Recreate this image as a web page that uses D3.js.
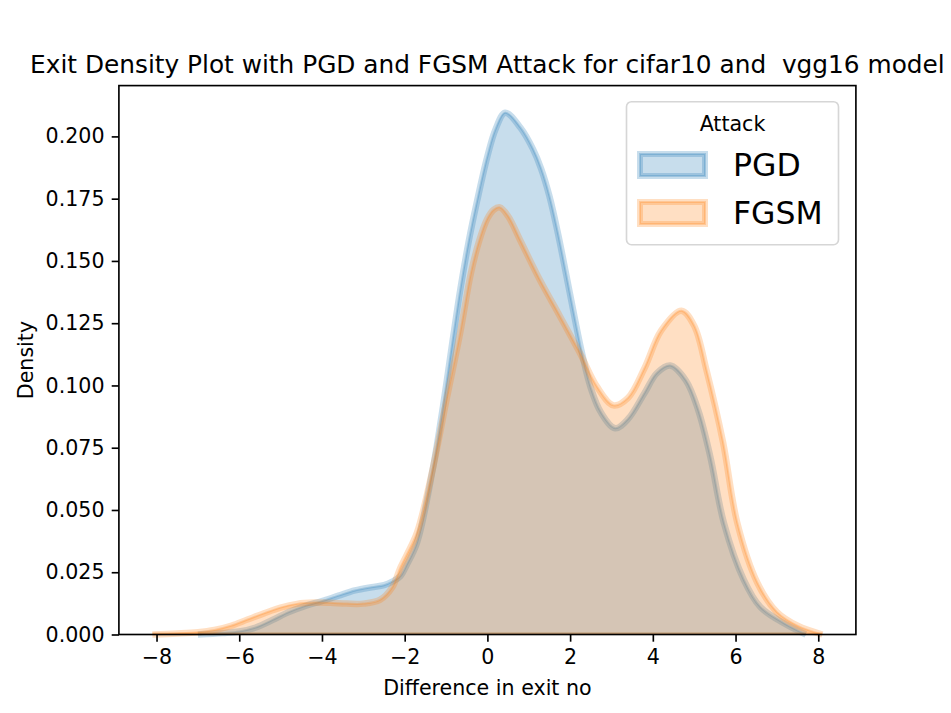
<!DOCTYPE html>
<html>
<head>
<meta charset="utf-8">
<script src="https://cdn.jsdelivr.net/npm/d3@7"></script>
<style>
  body { margin: 0; background: #fff; }
  text { font-family: "DejaVu Sans", sans-serif; }
</style>
</head>
<body>
<svg id="chart" width="951" height="713"></svg>
<script>
// values
const pgdX = [-7.0, -6.4, -6.0, -5.6, -5.2, -4.8, -4.4, -4.0, -3.6, -3.2, -2.8, -2.5, -2.3, -2.1, -1.95, -1.7, -1.31, -1.07, -0.85, -0.65, -0.45, -0.25, 0.0, 0.2, 0.43, 0.8, 1.1, 1.3, 1.5, 1.7, 1.9, 2.1, 2.3, 2.5, 2.75, 3.09, 3.4, 3.8, 4.1, 4.42, 4.8, 5.1, 5.39, 5.72, 6.2, 6.6, 7.16, 7.7]
const pgdY = [0, 0.0006, 0.0012, 0.0028, 0.0058, 0.009, 0.0115, 0.0134, 0.0156, 0.0177, 0.019, 0.0198, 0.0212, 0.0235, 0.028, 0.037, 0.0674, 0.092, 0.117, 0.139, 0.158, 0.174, 0.192, 0.203, 0.2095, 0.2035, 0.195, 0.187, 0.176, 0.1615, 0.145, 0.128, 0.112, 0.099, 0.089, 0.0828, 0.0865, 0.097, 0.105, 0.108, 0.102, 0.09, 0.0714, 0.0447, 0.0219, 0.011, 0.0046, 0]

const fgsmX = [-8.1, -7.5, -7.0, -6.6, -6.2, -5.8, -5.4, -5.0, -4.6, -4.2, -3.8, -3.4, -3.0, -2.6, -2.3, -2.1, -1.95, -1.7, -1.31, -0.99, -0.66, -0.4, -0.2, 0.0, 0.15, 0.3, 0.5, 0.79, 1.27, 1.76, 2.24, 2.65, 3.05, 3.4, 3.8, 4.2, 4.69, 5.0, 5.3, 5.7, 6.04, 6.53, 7.0, 7.5, 8.1]
const fgsmY = [0, 0.0004, 0.0009, 0.0018, 0.0035, 0.006, 0.0085, 0.0108, 0.0123, 0.0128, 0.0127, 0.0124, 0.0124, 0.0139, 0.019, 0.027, 0.032, 0.041, 0.0674, 0.0941, 0.121, 0.145, 0.158, 0.167, 0.1705, 0.1715, 0.168, 0.1584, 0.1423, 0.1276, 0.1129, 0.0995, 0.092, 0.095, 0.107, 0.122, 0.13, 0.124, 0.106, 0.077, 0.045, 0.0207, 0.009, 0.0035, 0]

const seriesNames = ["PGD", "FGSM"]
const seriesColours = ["#1f77b4", "#ff7f0e"]
const xTicks = [-8, -6, -4, -2, 0, 2, 4, 6, 8]
const yTicks = [0, 0.025, 0.05, 0.075, 0.1, 0.125, 0.15, 0.175, 0.2]

const series = [
	{ name: seriesNames[0], colour: seriesColours[0], points: pgdX.map((x, i) => [x, pgdY[i]]) },
	{ name: seriesNames[1], colour: seriesColours[1], points: fgsmX.map((x, i) => [x, fgsmY[i]]) }
]

const svg = d3.select("#chart")
const plotLeft = 118.9, plotRight = 855.9, plotTop = 85.6, plotBottom = 634.5

const x = d3.scaleLinear().domain([-8.91, 8.91]).range([plotLeft, plotRight])
const y = d3.scaleLinear().domain([0, 0.2204]).range([plotBottom, plotTop])

const curve = d3.curveCatmullRom.alpha(0.5)

const area = d3.area()
	.x(d => x(d[0]))
	.y0(y(0))
	.y1(d => y(d[1]))
	.curve(curve)

const line = d3.line()
	.x(d => x(d[0]))
	.y(d => y(d[1]))
	.curve(curve)

const plot = svg.append("g")

// fill, then the thick soft edge with a thinner darker core
series.forEach(s => {
	const g = plot.append("g")
	g.append("path")
		.attr("d", area(s.points))
		.attr("fill", s.colour)
		.attr("fill-opacity", 0.25)
	g.append("path")
		.attr("d", line(s.points))
		.attr("fill", "none")
		.attr("stroke", s.colour)
		.attr("stroke-opacity", 0.25)
		.attr("stroke-width", 6.5)
		.attr("stroke-linejoin", "round")
	g.append("path")
		.attr("d", line(s.points))
		.attr("fill", "none")
		.attr("stroke", s.colour)
		.attr("stroke-opacity", 0.25)
		.attr("stroke-width", 2)
	g.append("line")
		.attr("x1", x(s.points[0][0]))
		.attr("x2", x(s.points[s.points.length - 1][0]))
		.attr("y1", y(0) - 1)
		.attr("y2", y(0) - 1)
		.attr("stroke", s.colour)
		.attr("stroke-opacity", 0.35)
		.attr("stroke-width", 2)
})

// axes
const xAxis = svg.append("g")
	.attr("transform", `translate(0,${plotBottom})`)
	.call(d3.axisBottom(x).tickValues(xTicks).tickSize(7.2).tickPadding(7.2).tickFormat(d3.format("d")))
const yAxis = svg.append("g")
	.attr("transform", `translate(${plotLeft},0)`)
	.call(d3.axisLeft(y).tickValues(yTicks).tickSize(7.2).tickPadding(7.2).tickFormat(d3.format(".3f")))

;[xAxis, yAxis].forEach(a => {
	a.select(".domain").remove()
	a.selectAll(".tick line").attr("stroke", "#000").attr("stroke-width", 1.65)
	a.selectAll(".tick text").attr("fill", "#000").style("font-size", "20.6px").style("font-family", "DejaVu Sans")
})

svg.append("rect")
	.attr("x", plotLeft)
	.attr("y", plotTop)
	.attr("width", plotRight - plotLeft)
	.attr("height", plotBottom - plotTop)
	.attr("fill", "none")
	.attr("stroke", "#000")
	.attr("stroke-width", 1.65)

// titles and labels
svg.append("text")
	.attr("x", (plotLeft + plotRight) / 2)
	.attr("y", 73.2)
	.attr("text-anchor", "middle")
	.style("font-size", "24.8px")
	.text("Exit Density Plot with PGD and FGSM Attack for cifar10 and\u00a0 vgg16 model")

svg.append("text")
	.attr("x", (plotLeft + plotRight) / 2)
	.attr("y", 695)
	.attr("text-anchor", "middle")
	.style("font-size", "20.6px")
	.text("Difference in exit no")

svg.append("text")
	.attr("transform", `translate(33,${(plotTop + plotBottom) / 2}) rotate(-90)`)
	.attr("text-anchor", "middle")
	.style("font-size", "20.6px")
	.text("Density")

// legend
const legend = svg.append("g")
legend.append("rect")
	.attr("x", 626.5)
	.attr("y", 101.7)
	.attr("width", 212)
	.attr("height", 143)
	.attr("rx", 5)
	.attr("fill", "#fff")
	.attr("fill-opacity", 0.8)
	.attr("stroke", "#d6d6d6")
	.attr("stroke-width", 1.65)

legend.append("text")
	.attr("x", 732.5)
	.attr("y", 131)
	.attr("text-anchor", "middle")
	.style("font-size", "20.6px")
	.text("Attack")

series.forEach((s, i) => {
	const cy = 165 + i * 48
	const item = legend.append("g")
	item.append("rect")
		.attr("x", 640).attr("y", cy - 11)
		.attr("width", 65).attr("height", 22)
		.attr("fill", s.colour).attr("fill-opacity", 0.25)
		.attr("stroke", s.colour).attr("stroke-opacity", 0.25)
		.attr("stroke-width", 6)
	item.append("rect")
		.attr("x", 640).attr("y", cy - 11)
		.attr("width", 65).attr("height", 22)
		.attr("fill", "none")
		.attr("stroke", s.colour).attr("stroke-opacity", 0.25)
		.attr("stroke-width", 2)
	item.append("text")
		.attr("x", 733)
		.attr("y", cy + 11)
		.style("font-size", "31.5px")
		.text(s.name)
})
</script>
</body>
</html>
